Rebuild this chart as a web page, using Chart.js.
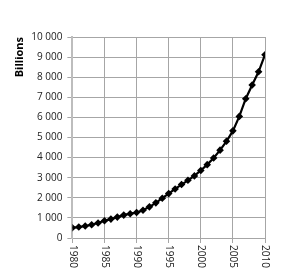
<!DOCTYPE html>
<html lang="en">
<head>
<meta charset="UTF-8">
<title>Billions 1980-2010</title>
<script src="https://cdn.jsdelivr.net/npm/chart.js"></script>
<style>
  html, body { margin: 0; padding: 0; background: #fff; }
  #wrap { width: 307px; height: 270px; }
</style>
</head>
<body>
<div id="wrap"><canvas id="chart"></canvas></div>
<script>
// data
const years = [1980, 1981, 1982, 1983, 1984, 1985, 1986, 1987, 1988, 1989,
               1990, 1991, 1992, 1993, 1994, 1995, 1996, 1997, 1998, 1999,
               2000, 2001, 2002, 2003, 2004, 2005, 2006, 2007, 2008, 2009, 2010];
const billions = [510, 545, 595, 660, 745, 855, 940, 1040, 1140, 1210,
                  1265, 1380, 1550, 1750, 1980, 2210, 2440, 2660, 2870, 3090,
                  3360, 3650, 3980, 4370, 4810, 5330, 6050, 6930, 7610, 8270, 9120];
const yAxisTitle = 'Billions';

const points = years.map((y, i) => ({ x: y, y: billions[i] }));

// x labels read top-to-bottom (rotated clockwise), Chart.js only rotates the other way
const xLabelsDown = {
  id: 'xLabelsDown',
  afterDraw(chart) {
    const sc = chart.scales.x;
    const ctx = chart.ctx;
    ctx.save();
    ctx.font = '10px "Open Sans", sans-serif';
    ctx.fillStyle = '#222';
    ctx.textBaseline = 'middle';
    ctx.textAlign = 'left';
    sc.ticks.forEach(t => {
      const px = sc.getPixelForValue(t.value);
      ctx.save();
      ctx.translate(px, chart.chartArea.bottom + 7);
      ctx.rotate(Math.PI / 2);
      ctx.fillText(String(t.value), 0, 0);
      ctx.restore();
    });
    ctx.restore();
  }
};

new Chart(document.getElementById('chart'), {
  type: 'line',
  data: {
    datasets: [{
      data: points,
      borderColor: '#000',
      backgroundColor: '#000',
      borderWidth: 2.2,
      pointStyle: 'rectRot',
      pointRadius: 3.8,
      pointBorderWidth: 0,
      tension: 0
    }]
  },
  options: {
    responsive: true,
    maintainAspectRatio: false,
    animation: false,
    layout: { padding: { left: 13, right: 42, top: 37, bottom: 0 } },
    plugins: { legend: { display: false }, tooltip: { enabled: false } },
    scales: {
      x: {
        type: 'linear',
        min: 1980,
        max: 2010,
        ticks: { stepSize: 5, display: false },
        grid: { color: '#a6a6a6', tickLength: 5, tickColor: '#a6a6a6' },
        border: { color: '#a6a6a6' },
        afterFit(sc) { sc.height = 32; }
      },
      y: {
        min: 0,
        max: 10000,
        ticks: {
          stepSize: 1000,
          padding: 5,
          color: '#222',
          font: { family: '"Open Sans", sans-serif', size: 10 },
          callback: v => v.toLocaleString('en-US').replace(',', ' ')
        },
        grid: { color: '#a6a6a6', tickLength: 5, tickColor: '#a6a6a6' },
        border: { color: '#bdbdbd', width: 2 },
        title: {
          display: true,
          text: yAxisTitle,
          align: 'end',
          color: '#000',
          padding: 0,
          font: { family: '"Open Sans", sans-serif', size: 11, weight: 'bold' }
        }
      }
    }
  },
  plugins: [xLabelsDown]
});
</script>
</body>
</html>
